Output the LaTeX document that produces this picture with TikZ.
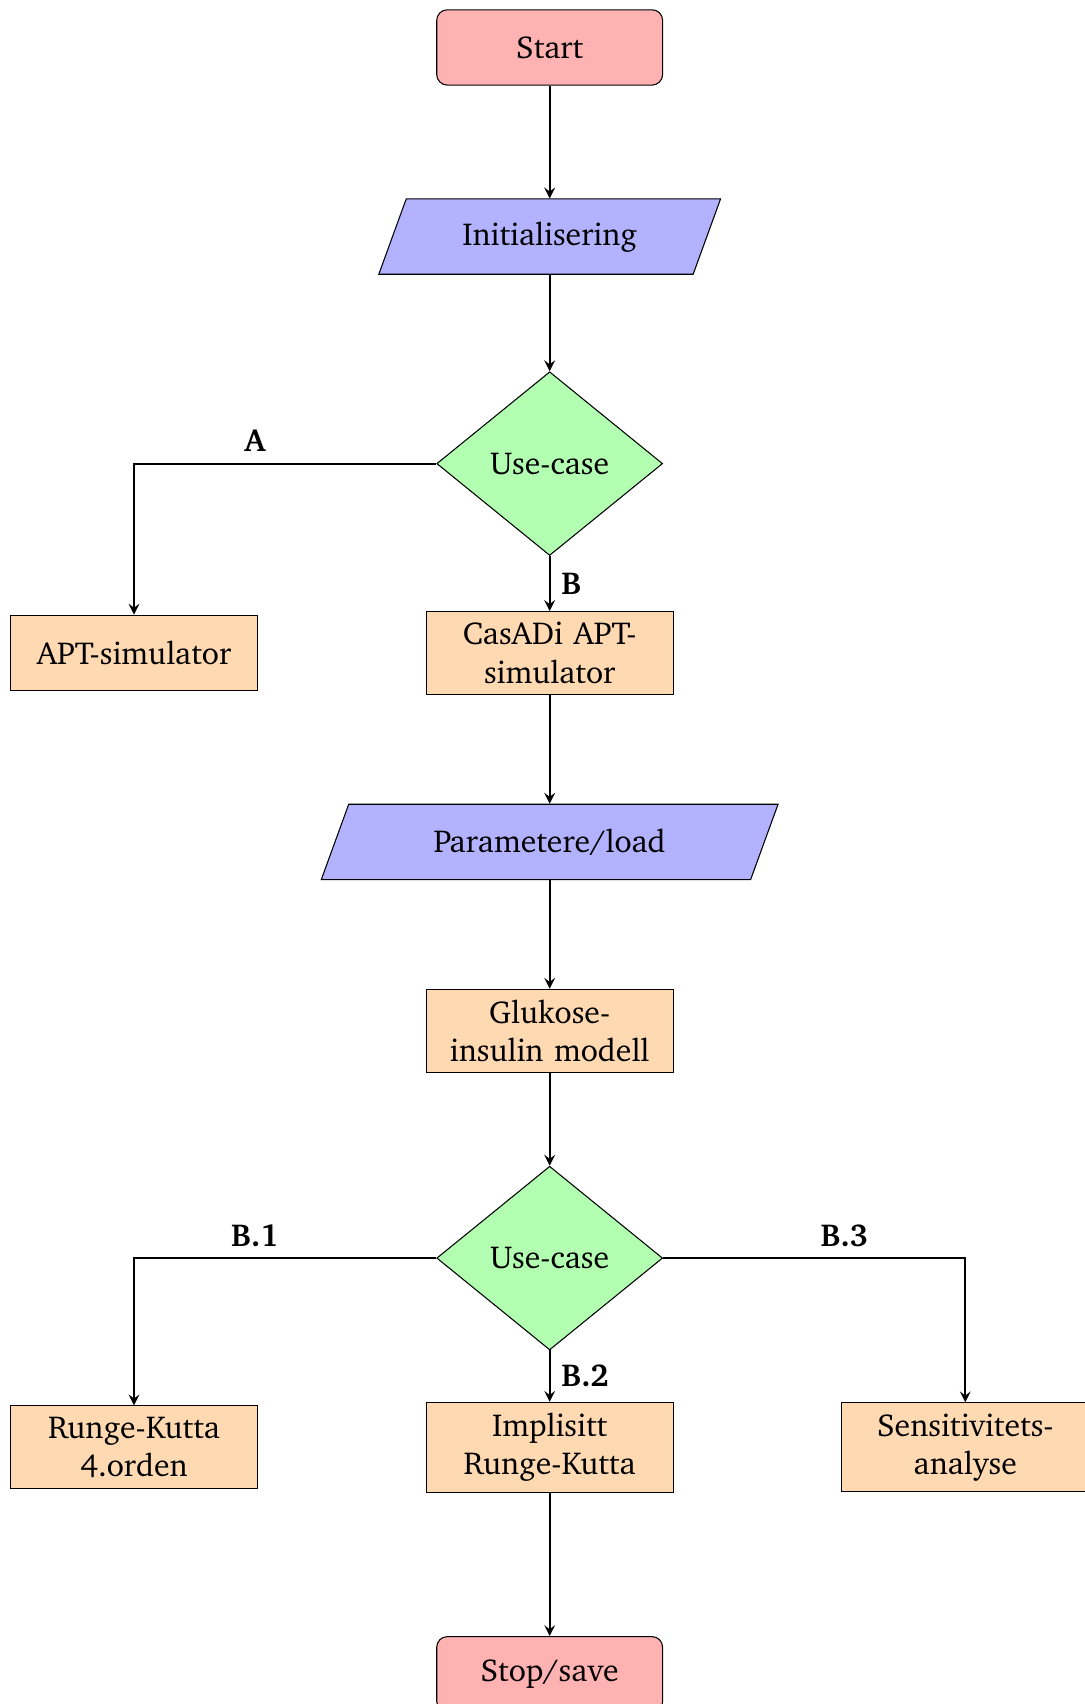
\documentclass[tikz,border=0pt,12pt]{standalone}
\usepackage[T1]{fontenc}
\usepackage{charter}
\usetikzlibrary{shapes.geometric, arrows, positioning}

\tikzset{
  startstop/.style={rectangle, rounded corners, minimum width=3cm, minimum height=1cm, text centered, draw=black, fill=red!30},
  io/.style={trapezium, trapezium left angle=70, trapezium right angle=110, minimum height=1cm, text centered, draw=black, fill=blue!30},
  process/.style={rectangle, minimum width=3cm, minimum height=1cm, text width=3cm, align=center, draw=black, fill=orange!30},
  decision/.style={diamond, minimum width=3cm, minimum height=2.44cm, inner sep=1pt, text centered, draw=black, fill=green!30},
  arrow/.style={thick, ->, >=stealth},
  lbl/.style={font=\bfseries}
}

\begin{document}
\begin{tikzpicture}[node distance=2.512cm and 5.52cm, on grid]
\useasboundingbox (-7.30,0.63) rectangle (7.10,-22.0);

\node (start) [startstop] {Start};
\node (init) [io, below=of start, minimum width=4.2cm] {Initialisering};
\node (case1) [decision, below=3.015cm of init] {Use-case};
\node (casadi) [process, below=of case1] {CasADi APT-simulator};
\node (apt) [process, left=of casadi] {APT-simulator};
\node (param) [io, below=of casadi, minimum width=5.72cm] {Parametere/load};
\node (model) [process, below=of param] {Glukose-insulin modell};
\node (case2) [decision, below=3.015cm of model] {Use-case};
\node (irk) [process, below=of case2] {Implisitt Runge-Kutta};
\node (rk4) [process, left=of irk] {Runge-Kutta 4.orden};
\node (sens) [process, right=of irk] {Sensitivitets-analyse};
\node (stop) [startstop, below=3.015cm of irk] {Stop/save};

\draw [arrow] (start) -- (start |- init.north);
\draw [arrow] (case1.north |- init.south) -- (case1);
\draw [arrow] (case1) -| node[lbl, pos=0.3, above] {A} (apt);
\draw [arrow] (case1) -- node[lbl, right] {B} (casadi);
\draw [arrow] (casadi) -- (casadi |- param.north);
\draw [arrow] (model.north |- param.south) -- (model);
\draw [arrow] (model) -- (case2);
\draw [arrow] (case2) -| node[lbl, pos=0.3, above] {B.1} (rk4);
\draw [arrow] (case2) -- node[lbl, right] {B.2} (irk);
\draw [arrow] (case2) -| node[lbl, pos=0.3, above] {B.3} (sens);
\draw [arrow] (irk) -- (stop);
\end{tikzpicture}
\end{document}
